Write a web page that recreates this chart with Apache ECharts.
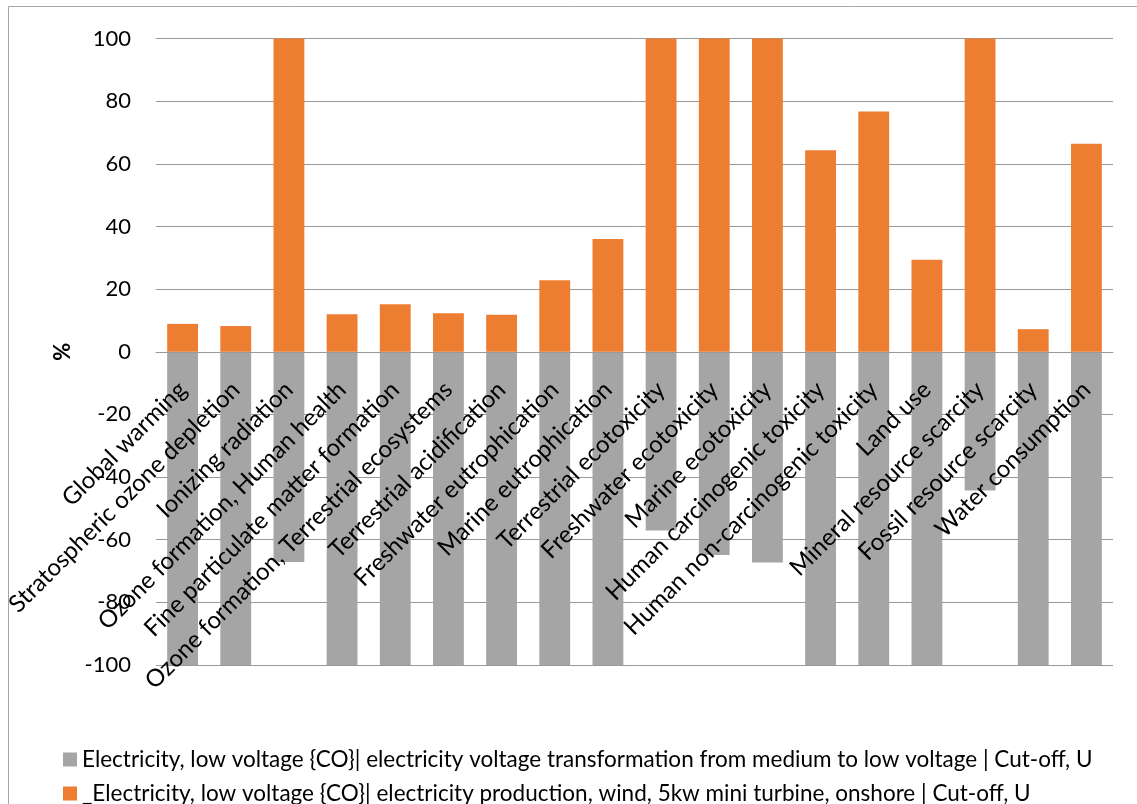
<!DOCTYPE html>
<html>
<head>
<meta charset="utf-8">
<script src="https://cdn.jsdelivr.net/npm/echarts@6/dist/echarts.min.js"></script>
<style>
  html, body { margin: 0; padding: 0; background: #ffffff; }
  #chart { width: 1137px; height: 804px; }
</style>
</head>
<body>
<div id="chart"></div>
<script>
// Impact categories (ReCiPe midpoint)
const categories = [
  'Global warming',
  'Stratospheric ozone depletion',
  'Ionizing radiation',
  'Ozone formation, Human health',
  'Fine particulate matter formation',
  'Ozone formation, Terrestrial ecosystems',
  'Terrestrial acidification',
  'Freshwater eutrophication',
  'Marine eutrophication',
  'Terrestrial ecotoxicity',
  'Freshwater ecotoxicity',
  'Marine ecotoxicity',
  'Human carcinogenic toxicity',
  'Human non-carcinogenic toxicity',
  'Land use',
  'Mineral resource scarcity',
  'Fossil resource scarcity',
  'Water consumption'
];

const seriesNames = [
  'Electricity, low voltage {CO}| electricity voltage transformation from medium to low voltage | Cut-off, U',
  '_Electricity, low voltage {CO}| electricity production, wind, 5kw mini turbine, onshore | Cut-off, U'
];

// Relative contribution (%) of the grid transformation process (shown negative)
const transformationValues = [
  -100, -100, -67.1, -100, -100, -100, -100, -100, -100,
  -57.1, -64.9, -67.3, -100, -100, -100, -44.3, -100, -100
];

// Relative contribution (%) of the wind mini-turbine process
const windValues = [
  8.9, 8.2, 100, 12.0, 15.2, 12.3, 11.8, 22.8, 36.0,
  100, 100, 100, 64.3, 76.7, 29.4, 100, 7.2, 66.4
];

const yTicks = { min: -100, max: 100, interval: 20 };

const FONT = 'Lato, "Liberation Sans", sans-serif';

// Plot area geometry
const GRID = { left: 156, right: 24, top: 38.5, bottom: 139 };
const CHART_H = 804;
const plotHeight = CHART_H - GRID.top - GRID.bottom;
// Category axis sits on the zero line: shift it up from the bottom edge
const zeroOffset = -plotHeight * (0 - yTicks.min) / (yTicks.max - yTicks.min);

const legendText = { fontFamily: FONT, fontSize: 22.5, color: '#000000' };

const chart = echarts.init(document.getElementById('chart'), null, { renderer: 'canvas' });

chart.setOption({
  animation: false,
  backgroundColor: '#ffffff',
  graphic: [{
    type: 'rect',
    shape: { x: 8.5, y: 6.5, width: 1140, height: 810 },
    style: { fill: 'none', stroke: '#a6a6a6', lineWidth: 1 },
    silent: true
  }],
  grid: {
    left: GRID.left, right: GRID.right, top: GRID.top, bottom: GRID.bottom,
    containLabel: false, outerBoundsMode: 'none'
  },
  legend: [
    {
      left: 58, top: 743,
      itemWidth: 14, itemHeight: 14,
      icon: 'rect',
      textStyle: legendText,
      data: [seriesNames[0]]
    },
    {
      left: 58, top: 777,
      itemWidth: 14, itemHeight: 14,
      icon: 'rect',
      textStyle: legendText,
      data: [seriesNames[1]]
    }
  ],
  xAxis: {
    type: 'category',
    data: categories,
    offset: zeroOffset,
    z: 10,
    axisLine: { onZero: false, lineStyle: { color: '#999999' } },
    axisTick: { show: false },
    axisLabel: {
      interval: 0,
      rotate: 45,
      margin: 34,
      color: '#000000',
      fontFamily: FONT,
      fontSize: 24
    }
  },
  yAxis: {
    type: 'value',
    min: yTicks.min,
    max: yTicks.max,
    interval: yTicks.interval,
    name: '%',
    nameLocation: 'middle',
    nameRotate: 90,
    nameGap: 82,
    nameTextStyle: { fontFamily: FONT, fontSize: 22, fontWeight: 'bold', color: '#000000' },
    axisLine: { show: false },
    axisTick: { show: false },
    axisLabel: { margin: 25, color: '#000000', fontFamily: FONT, fontSize: 22 },
    splitLine: { lineStyle: { color: '#999999', width: 1 } }
  },
  series: [
    {
      name: seriesNames[0],
      type: 'bar',
      stack: 'total',
      data: transformationValues,
      barCategoryGap: '42%',
      itemStyle: { color: '#a5a5a5' }
    },
    {
      name: seriesNames[1],
      type: 'bar',
      stack: 'total',
      data: windValues,
      barCategoryGap: '42%',
      itemStyle: { color: '#ed7d31' }
    }
  ]
});
</script>
</body>
</html>
